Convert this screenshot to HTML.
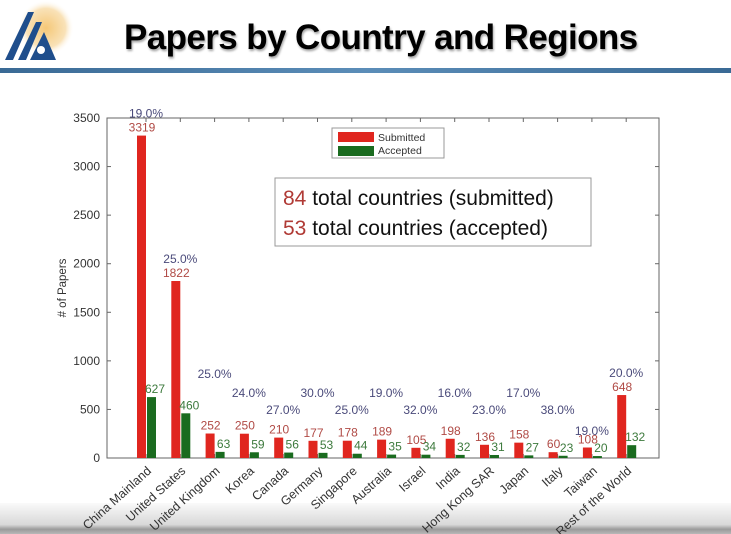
<!DOCTYPE html>
<html><head><meta charset="utf-8">
<style>
body{margin:0;width:731px;height:534px;overflow:hidden;background:#fff;font-family:"Liberation Sans",sans-serif;position:relative}
#title{position:absolute;left:124px;top:18px;font-size:35px;font-weight:bold;color:#000;letter-spacing:-0.6px;text-shadow:1px 2px 2px rgba(0,0,0,0.35);font-family:"Liberation Sans",sans-serif}
#rule{position:absolute;left:0;top:68px;width:731px;height:5px;background:linear-gradient(to right,#3a6a95,#5b8db8 50%,#3a6a95)}
#foot{position:absolute;left:0;top:503px;width:731px;height:31px;background:linear-gradient(#fafafa,#d8d8d8 70%,#9a9a9a 85%,#b8b8b8)}
svg{position:absolute;left:0;top:0}
</style></head><body>
<div id="rule"></div>
<div id="foot"></div>
<svg width="90" height="66">
<defs><radialGradient id="g" cx="0.5" cy="0.5" r="0.5"><stop offset="0" stop-color="#f5c878"/><stop offset="0.7" stop-color="#f9e2b8"/><stop offset="1" stop-color="#fff" stop-opacity="0"/></radialGradient></defs>
<circle cx="46" cy="28" r="28" fill="url(#g)"/>
<polygon points="5,60 28,12 34,12 13,60" fill="#1f4e8c"/>
<polygon points="18,60 36,22 42,22 26,60" fill="#1f4e8c"/>
<polygon points="30,60 44,32 56,60" fill="#1f4e8c"/>
<circle cx="41" cy="50" r="4" fill="#fff"/>
</svg>
<div id="title">Papers by Country and Regions</div>
<svg id="chart" width="731" height="534"></svg>
<script>
const categories=["China Mainland","United States","United Kingdom","Korea","Canada","Germany","Singapore","Australia","Israel","India","Hong Kong SAR","Japan","Italy","Taiwan","Rest of the World"];
const submitted=[3319,1822,252,250,210,177,178,189,105,198,136,158,60,108,648];
const accepted=[627,460,63,59,56,53,44,35,34,32,31,27,23,20,132];
const rates=["19.0%","25.0%","25.0%","24.0%","27.0%","30.0%","25.0%","19.0%","32.0%","16.0%","23.0%","17.0%","38.0%","19.0%","20.0%"];
const yTicks=[0,500,1000,1500,2000,2500,3000,3500];
const NS="http://www.w3.org/2000/svg";
const svg=document.getElementById('chart');
const L=107,R=659,T=118,B=458,yMax=3500;
const y=v=>B-(v/yMax)*(B-T);
const x=i=>146+i*34.3;
function mk(t,a,txt){const e=document.createElementNS(NS,t);for(const k in a)e.setAttribute(k,a[k]);if(txt!==undefined)e.textContent=txt;svg.appendChild(e);return e;}
let ax=mk('rect',{x:L,y:T,width:R-L,height:B-T,fill:'none',stroke:'#666','stroke-width':1});


yTicks.forEach(v=>{
 let t=mk('text',{x:L-7,y:y(v)+4,'text-anchor':'end','font-size':12,fill:'#333'},v);
 
 
 mk('line',{x1:L,x2:L+4,y1:y(v),y2:y(v),stroke:'#666'});
 mk('line',{x1:R,x2:R-4,y1:y(v),y2:y(v),stroke:'#666'});
});
let yt=mk('text',{x:0,y:0,transform:`translate(66,288) rotate(-90)`,'text-anchor':'middle','font-size':11.5,fill:'#333'},'# of Papers');


const bw=9;
categories.forEach((c,i)=>{
 const cx=x(i);
 mk('line',{x1:cx,x2:cx,y1:T,y2:T+4,stroke:'#666'});
 mk('line',{x1:cx,x2:cx,y1:B,y2:B-4,stroke:'#666'});
 let r=mk('rect',{x:cx-bw,y:y(submitted[i]),width:bw,height:B-y(submitted[i]),fill:'#e0261f'});
 
 
 let g=mk('rect',{x:cx+1,y:y(accepted[i]),width:bw,height:B-y(accepted[i]),fill:'#1a6b1f'});
 
 
 let st=mk('text',{x:cx-4,y:y(submitted[i])-4,'text-anchor':'middle','font-size':12,fill:'#b04a45'},submitted[i]);
 
 
 let at=mk('text',{x:cx+9,y:y(accepted[i])-4,'text-anchor':'middle','font-size':12,fill:'#3d7a3d'},accepted[i]);
 
 
 let py;
 if(i<2||i==14) py=y(submitted[i])-18;
 else if(i==13) py=435;
 else if(i==2) py=378;
 else py=(i%2==1)?397:414;
 let pt=mk('text',{x:cx,y:py,'text-anchor':'middle','font-size':12,fill:'#4a4a7a'},rates[i]);
 
 
 let cl=mk('text',{x:0,y:0,transform:`translate(${cx+6},${B+14}) rotate(-42)`,'text-anchor':'end','font-size':12.5,fill:'#333'},c);
 
 
});
let lg=mk('rect',{x:332,y:128,width:112,height:30,fill:'#fff',stroke:'#999'});


mk('rect',{x:338,y:132,width:36,height:10,fill:'#e0261f'});
mk('rect',{x:338,y:146,width:36,height:10,fill:'#1a6b1f'});
let l1=mk('text',{x:378,y:141,'font-size':10.5,fill:'#333'},'Submitted');


let l2=mk('text',{x:378,y:154,'font-size':10.5,fill:'#333'},'Accepted');


let nb=mk('rect',{x:275,y:178,width:316,height:68,fill:'#fff',stroke:'#999'});


let n1=mk('text',{x:283,y:205,'font-size':21,fill:'#111'});
n1.innerHTML='<tspan fill="#b03a35">84</tspan> total countries (submitted)';


let n2=mk('text',{x:283,y:235,'font-size':21,fill:'#111'});
n2.innerHTML='<tspan fill="#b03a35">53</tspan> total countries (accepted)';


</script>
</body></html>
